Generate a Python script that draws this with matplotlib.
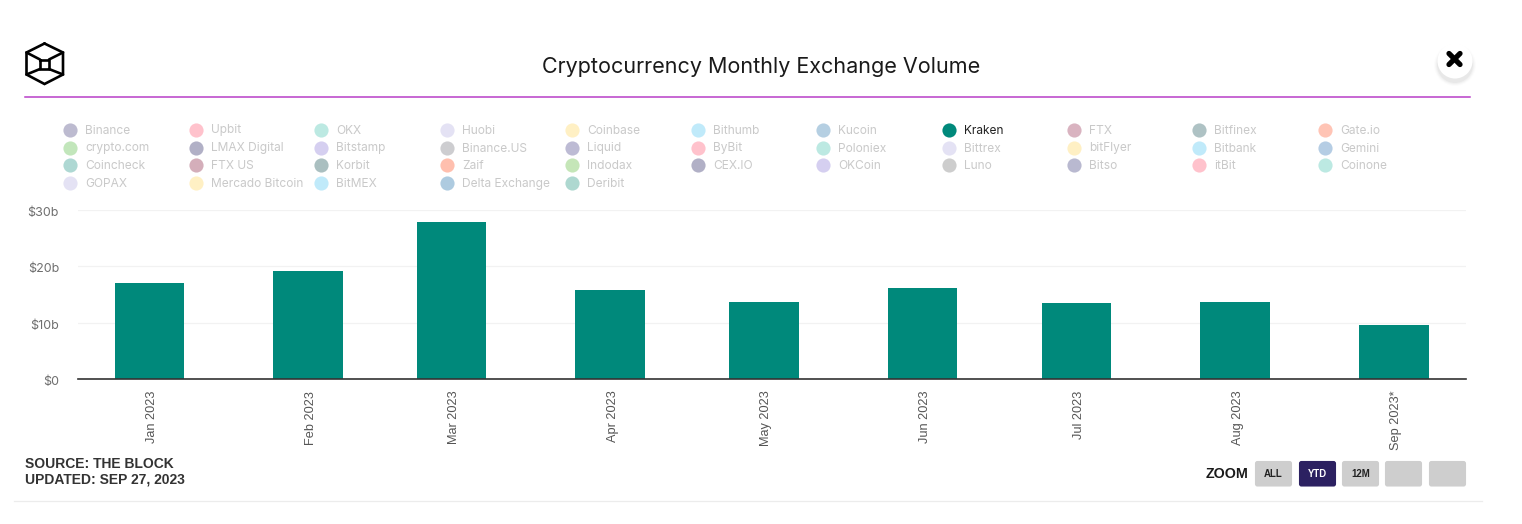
"""Cryptocurrency monthly exchange volume (Kraken selected), YTD view."""
import matplotlib
matplotlib.use("Agg")
import matplotlib.dates as mdates
import matplotlib.pyplot as plt
from matplotlib.lines import Line2D
from matplotlib.patches import Circle, FancyBboxPatch
from matplotlib.transforms import ScaledTranslation
from datetime import date

W, H = 1522, 524

MONTHS = [date(2023, m, 1) for m in range(1, 10)]
MONTH_LABELS = ["Jan 2023", "Feb 2023", "Mar 2023", "Apr 2023", "May 2023",
                "Jun 2023", "Jul 2023", "Aug 2023", "Sep 2023*"]
KRAKEN_VOLUME = [17.0, 19.2, 27.8, 15.8, 13.7, 16.2, 13.5, 13.7, 9.5]

Y_TICKS = [0, 10, 20, 30]
Y_LABELS = ["$0", "$10b", "$20b", "$30b"]

# legend is laid out column by column
LEGEND_COLUMNS = [
    ["Binance", "crypto.com", "Coincheck", "GOPAX"],
    ["Upbit", "LMAX Digital", "FTX US", "Mercado Bitcoin"],
    ["OKX", "Bitstamp", "Korbit", "BitMEX"],
    ["Huobi", "Binance.US", "Zaif", "Delta Exchange"],
    ["Coinbase", "Liquid", "Indodax", "Deribit"],
    ["Bithumb", "ByBit", "CEX.IO"],
    ["Kucoin", "Poloniex", "OKCoin"],
    ["Kraken", "Bittrex", "Luno"],
    ["FTX", "bitFlyer", "Bitso"],
    ["Bitfinex", "Bitbank", "itBit"],
    ["Gate.io", "Gemini", "Coinone"],
]
LEGEND_COLORS = [
    ["#bdbbd0", "#c2e6bb", "#aed8d3", "#e4e2f4"],
    ["#ffc2cc", "#b1b0c6", "#d4aeba", "#fff0c4"],
    ["#bce9e2", "#d5cff0", "#aabfc0", "#c0eafa"],
    ["#e4e2f4", "#cdcdd0", "#ffbfae", "#aecbe0"],
    ["#fff0c4", "#bdbbd4", "#c5e6b8", "#aed8d0"],
    ["#c0eafa", "#ffc2cc", "#b1b0c6"],
    ["#b5cfe2", "#bce9e2", "#d5cff0"],
    ["#00897b", "#e4e2f4", "#cdcdcd"],
    ["#d9b3c0", "#fff0c4", "#b9b9d0"],
    ["#aec2c4", "#c0eafa", "#ffc2cc"],
    ["#ffc4b5", "#b5cde4", "#bce9e2"],
]
LEGEND_X = [70, 196, 321, 447, 572, 698, 823, 949, 1074, 1199, 1325]
LEGEND_Y = [129.5, 147.5, 165, 183]

ZOOM_BUTTONS = ["ALL", "YTD", "12M", "", ""]
ZOOM_X = [1255, 1299, 1342, 1385, 1429]

TEAL = "#00897b"
SANS = ["Liberation Sans", "DejaVu Sans"]

fig = plt.figure(figsize=(W / 100, H / 100), dpi=100, facecolor="white")

# overlay in pixel coordinates for the page furniture
page = fig.add_axes([0, 0, 1, 1])
page.set_xlim(0, W)
page.set_ylim(H, 0)
page.axis("off")

page.text(761, 67, "Cryptocurrency Monthly Exchange Volume", family="Inter",
          fontsize=15.5, color="#1a1a1a", ha="center", va="center")
page.add_line(Line2D([25, 1470], [96.5, 96.5], color="#b83fc8", lw=1.1))
page.add_line(Line2D([14, 1482], [501, 501], color="#ececec", lw=0.9))

# logo
LOGO_LINES = [
    ([44.5, 63, 63, 44.5, 26.5, 26.5, 44.5], [43.5, 52.5, 74.5, 84, 74.5, 52.5, 43.5]),
    ([26.5, 40], [52.5, 59.5]),
    ([63, 49], [52.5, 59.5]),
    ([26.5, 40], [74.5, 69]),
    ([63, 49], [74.5, 69]),
    ([40, 49, 49, 40, 40], [59.5, 59.5, 69, 69, 59.5]),
]
for xs, ys in LOGO_LINES:
    page.add_line(Line2D(xs, ys, color="black", lw=1.9, solid_joinstyle="miter",
                         solid_capstyle="round"))

# close button
for r, a in [(21, 0.012), (20, 0.018), (19, 0.025), (18, 0.035)]:
    page.add_patch(Circle((1455, 65), r, fc="black", ec="none", alpha=a))
page.add_patch(Circle((1455, 61), 17.5, fc="white", ec="none"))
page.add_line(Line2D([1449, 1460], [53.5, 64.5], color="black", lw=3.8, solid_capstyle="round"))
page.add_line(Line2D([1460, 1449], [53.5, 64.5], color="black", lw=3.8, solid_capstyle="round"))

# legend
for x, names, colors in zip(LEGEND_X, LEGEND_COLUMNS, LEGEND_COLORS):
    for y, name, color in zip(LEGEND_Y, names, colors):
        on = name == "Kraken"
        page.plot([x], [y], "o", ms=10.2, mfc=color, mec="none")
        page.text(x + 15, y + 1, name, family="Inter", fontsize=8.6,
                  color="#222222" if on else "#c9c9c9", ha="left", va="center")

# source note
page.text(25, 464, "SOURCE: THE BLOCK", family=SANS, weight="bold", fontsize=10,
          color="#333333", va="center")
page.text(25, 480, "UPDATED: SEP 27, 2023", family=SANS, weight="bold", fontsize=10,
          color="#333333", va="center")

# zoom buttons
page.text(1248, 474, "ZOOM", family=SANS, weight="bold", fontsize=10.3,
          color="#1a1a1a", ha="right", va="center")
for x, label in zip(ZOOM_X, ZOOM_BUTTONS):
    on = label == "YTD"
    page.add_patch(FancyBboxPatch((x + 1, 462), 35, 23.5,
                                  boxstyle="round,pad=0,rounding_size=1.5",
                                  fc="#2c2161" if on else "#cecece", ec="#2c2161" if on else "#cecece",
                                  lw=1.5))
    page.text(x + 18.5, 474, label, family=SANS, weight="bold", fontsize=6.9,
              color="white" if on else "#222222", ha="center", va="center")

# chart itself: time scale, so month gaps differ
left, right, top, bottom = 78, 1466, 209.7, 379
ax = fig.add_axes([left / W, 1 - bottom / H, (right - left) / W, (bottom - top) / H])
ax.patch.set_alpha(0)

px_per_day = 5.121
x_dates = mdates.date2num(MONTHS)
ax.bar(x_dates, KRAKEN_VOLUME, width=69.5 / px_per_day, color=TEAL, zorder=2)
ax.set_xlim(x_dates[0] - (149.3 - left) / px_per_day, x_dates[-1] + (right - 1393.8) / px_per_day)
ax.set_ylim(0, 30)

ax.set_xticks(x_dates)
ax.set_xticklabels(MONTH_LABELS, rotation=90, family=SANS, fontsize=9.2, color="#555555",
                   ha="center", va="top")
ax.set_yticks(Y_TICKS)
ax.set_yticklabels(Y_LABELS, family="Inter", fontsize=9, color="#6e6e6e")
ax.tick_params(axis="x", length=0, pad=8.4)
ax.tick_params(axis="y", length=0, pad=13.7)
ax.grid(axis="y", color="#f2f2f2", lw=0.9, zorder=0)
ax.set_axisbelow(True)

# the site nudges its tick labels a little off the tick positions
for lab in ax.get_xticklabels():
    lab.set_transform(lab.get_transform() + ScaledTranslation(2.5 / 100, 0, fig.dpi_scale_trans))
for lab in ax.get_yticklabels():
    lab.set_transform(lab.get_transform() + ScaledTranslation(0, -1.5 / 100, fig.dpi_scale_trans))

for side in ["top", "right", "left"]:
    ax.spines[side].set_visible(False)
ax.spines["bottom"].set_color("#333333")
ax.spines["bottom"].set_linewidth(1.2)
ax.spines["bottom"].set_zorder(3)

fig.savefig("out.png", dpi=100, facecolor="white")
